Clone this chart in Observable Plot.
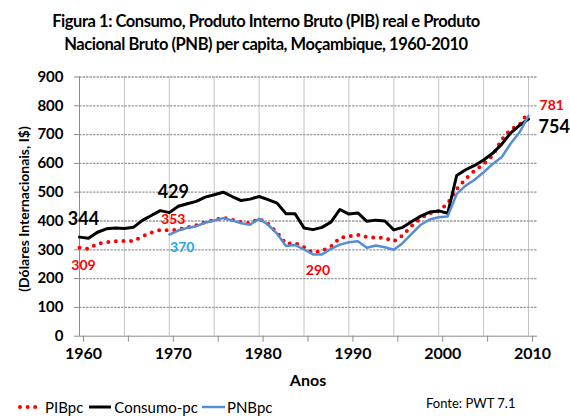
<!DOCTYPE html>
<html>
<head>
<meta charset="utf-8">
<script src="https://cdn.jsdelivr.net/npm/d3@7"></script>
<script src="https://cdn.jsdelivr.net/npm/@observablehq/plot@0.6"></script>
<style>
  html, body { margin: 0; padding: 0; background: #fff; }
  body { width: 570px; height: 416px; position: relative; overflow: hidden; font-family: Lato, "Noto Sans", sans-serif; }
  .abs { position: absolute; white-space: nowrap; }
  #title { left: 0; width: 532px; top: 10px; text-align: center; font-weight: bold; font-size: 16.5px; line-height: 23px; color: #000; letter-spacing: -0.45px; }
  #ylabel { left: 23px; top: 209px; transform: translate(-50%, -50%) rotate(-90deg); font-weight: bold; font-size: 14px; }
  #xlabel { left: 308px; top: 372px; transform: translateX(-50%); font-weight: bold; font-size: 16px; line-height: 16px; }
  #legend { left: 18px; top: 398px; font-size: 15px; display: flex; align-items: center; line-height: 18px; }
  #legend svg { display: block; }
  #fonte { left: 426px; top: 395px; font-size: 13px; }
  #chart { position: absolute; left: 0; top: 62px; }
</style>
</head>
<body>
<div id="title" class="abs">Figura 1: Consumo, Produto Interno Bruto (PIB) real e Produto<br>Nacional Bruto (PNB) per capita, Moçambique, 1960-2010</div>
<div id="chart"></div>
<div id="ylabel" class="abs">(Dólares Internacionais, I$)</div>
<div id="xlabel" class="abs">Anos</div>
<div id="legend" class="abs"></div>
<div id="fonte" class="abs">Fonte: PWT 7.1</div>
<script>
const years = d3.range(1960, 2011);
const consumo = [344,340,361,373,376,374,378,402,419,436,
                 429,451,460,468,483,491,500,485,471,476,
                 485,474,462,425,425,376,370,378,396,440,
                 424,428,399,403,400,369,378,398,417,431,
                 435,427,558,578,593,612,635,666,705,732,754];
const pib =     [307,303,321,326,330,331,330,347,360,369,
                 367,370,378,385,396,403,412,404,396,392,
                 408,390,360,321,323,309,290,297,311,342,
                 347,352,344,342,341,329,350,383,410,427,
                 434,461,510,546,575,598,627,682,717,735,778];
const pnb =     [null,null,null,null,null,null,null,null,null,null,
                 353,367,376,382,394,402,410,402,392,387,
                 408,387,356,313,317,301,284,284,303,318,
                 326,330,307,315,309,300,324,356,387,405,
                 413,416,494,523,543,569,598,621,668,708,765];
const yTicks = [0,100,200,300,400,500,600,700,800,900];
const xGrid = [1960,1965,1970,1975,1980,1985,1990,1995,2000,2005,2010];
const seriesNames = ["PIBpc", "Consumo-pc", "PNBpc"];
const seriesColors = ["#ff0000", "#000000", "#558ed5"];

// data labels
const labels = [
  {year: 1960, value: 344, text: "344", s: "Consumo-pc"},
  {year: 1970, value: 429, text: "429", s: "Consumo-pc"},
  {year: 2010, value: 754, text: "754", s: "Consumo-pc"},
  {year: 1960, value: 307, text: "309", s: "PIBpc"},
  {year: 1970, value: 367, text: "353", s: "PIBpc"},
  {year: 1986, value: 290, text: "290", s: "PIBpc"},
  {year: 2010, value: 778, text: "781", s: "PIBpc"},
  {year: 1970, value: 353, text: "370", s: "PNBpc"}
];
const lblStyle = {
  "344": {dx: 4, dy: -18, size: 18, color: "#000", anchor: "middle"},
  "429": {dx: 4, dy: -20, size: 18, color: "#000", anchor: "middle"},
  "754": {dx: 10, dy: 8, size: 18, color: "#000", anchor: "start"},
  "309": {dx: 4, dy: 18, size: 14, color: "#ff0000", anchor: "middle"},
  "353": {dx: 4, dy: -11, size: 14, color: "#ff0000", anchor: "middle"},
  "290": {dx: 5, dy: 18, size: 14, color: "#ff0000", anchor: "middle"},
  "781": {dx: 11, dy: -7, size: 14, color: "#ff0000", anchor: "start"},
  "370": {dx: 13, dy: 13, size: 14, color: "#1fa8ea", anchor: "middle"}
};

const rows = s => years.map((y, i) => ({year: y, value: s[i]})).filter(d => d.value != null);

const labelMarks = labels.map(l => {
  const st = lblStyle[l.text];
  return Plot.text([l], {x: "year", y: "value", text: "text", dx: st.dx, dy: st.dy,
    fontSize: st.size, fontWeight: "bold", fill: st.color, textAnchor: st.anchor});
});

const chart = Plot.plot({
  width: 570, height: 330,
  marginLeft: 79, marginRight: 33, marginTop: 14.5, marginBottom: 56.3,
  x: {domain: [1960, 2011]},
  y: {domain: [0, 900]},
  style: {fontFamily: "Lato, 'Noto Sans', sans-serif", background: "transparent", overflow: "visible", color: "#000"},
  marks: [
    Plot.gridX(xGrid, {stroke: "#c4c4c4", strokeOpacity: 1, strokeWidth: 1}),
    Plot.gridY(yTicks.slice(1), {stroke: "#9c9c9c", strokeOpacity: 1, strokeWidth: 1.3, strokeDasharray: "2.5,1"}),
    Plot.ruleX([1960], {stroke: "#8c8c8c"}),
    Plot.ruleY([0], {stroke: "#8c8c8c"}),
    Plot.axisY(yTicks, {tickSize: 5, tickPadding: 11, fontWeight: "bold", fontSize: 15, label: null, stroke: "#8c8c8c", tickFormat: d => String(d)}),
    Plot.axisX(xGrid, {tickSize: 6, tickPadding: 5, fontWeight: "bold", fontSize: 16, label: null, stroke: "#8c8c8c", dx: 4, tickFormat: d => d % 10 === 0 ? String(d) : ""}),
    Plot.line(rows(pib), {x: "year", y: "value", stroke: seriesColors[0], strokeWidth: 4, strokeLinecap: "round", strokeDasharray: "0,7.6"}),
    Plot.line(rows(consumo), {x: "year", y: "value", stroke: seriesColors[1], strokeWidth: 3}),
    Plot.line(rows(pnb), {x: "year", y: "value", stroke: seriesColors[2], strokeWidth: 2.5}),
    ...labelMarks
  ]
});
document.getElementById("chart").appendChild(chart);

// legend
const legend = document.getElementById("legend");
const sw = [
  `<svg width="22" height="10"><line x1="2" y1="5" x2="20" y2="5" stroke="${seriesColors[0]}" stroke-width="4" stroke-linecap="round" stroke-dasharray="0,7.6"/></svg>`,
  `<svg width="24" height="10"><line x1="1" y1="5" x2="23" y2="5" stroke="${seriesColors[1]}" stroke-width="3"/></svg>`,
  `<svg width="23" height="10"><line x1="0" y1="5" x2="23" y2="5" stroke="${seriesColors[2]}" stroke-width="2.5"/></svg>`
];
legend.innerHTML = seriesNames.map((n, i) =>
  `<span style="display:flex;align-items:center;margin-right:${i===0?5:i===1?4:0}px">${sw[i]}<span style="margin-left:${i===0?5:2}px">${n}</span></span>`).join("");
</script>
</body>
</html>
